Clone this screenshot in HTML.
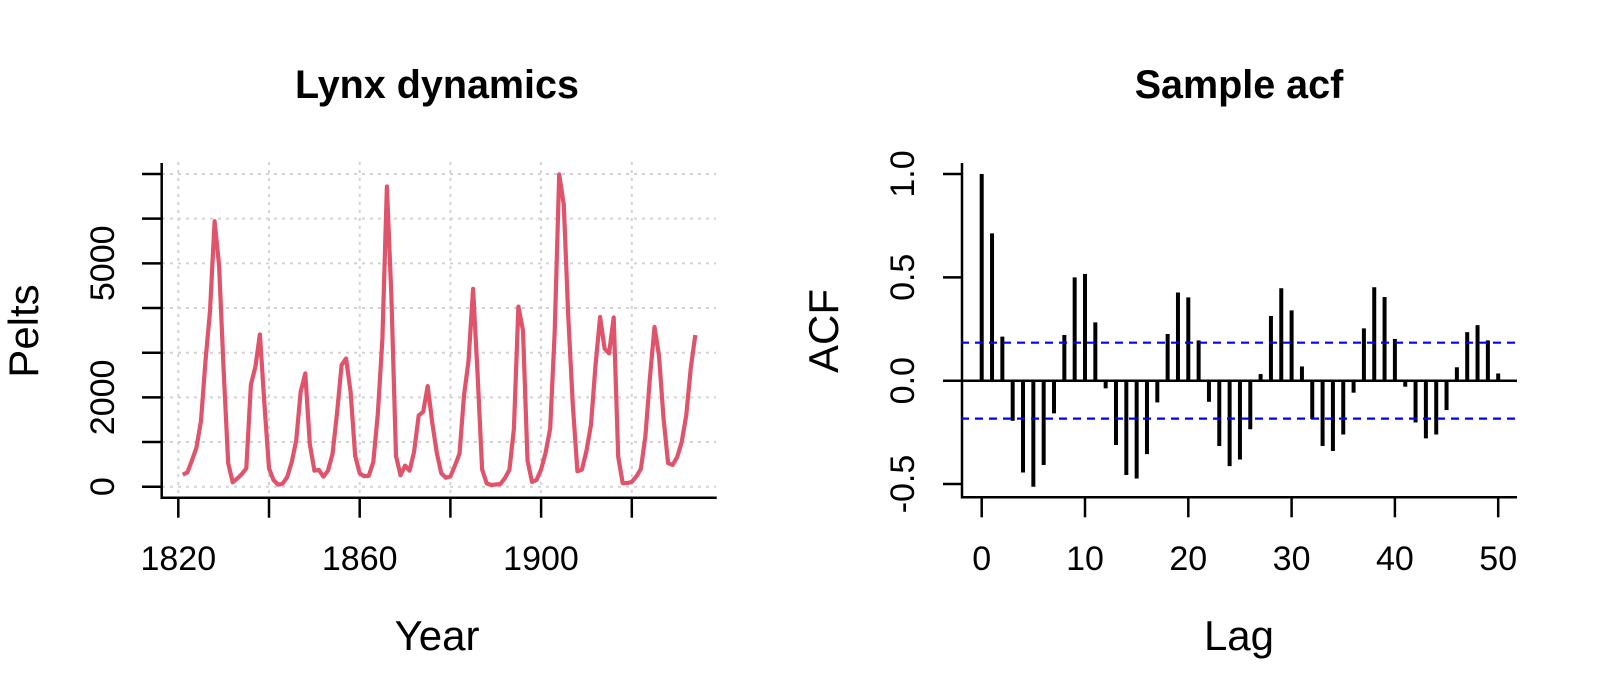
<!DOCTYPE html>
<html><head><meta charset="utf-8"><style>
html,body{margin:0;padding:0;background:#fff;}
svg{display:block;font-family:"Liberation Sans",Arial,sans-serif;}
</style></head><body>
<svg id="s" width="1600" height="700" viewBox="0 0 1600 700" xmlns="http://www.w3.org/2000/svg">
<rect width="1600" height="700" fill="#fff"/>
<g id="grid" stroke="#d3d3d3" stroke-width="2" stroke-dasharray="3,5" fill="none"></g>
<polyline id="lynx" fill="none" stroke="#DF536B" stroke-width="4.2" stroke-linejoin="round"/>
<g stroke="#000" stroke-width="2.5" fill="none" id="axes">
<polyline points="161.7,163 161.7,497.7 716.7,497.7"/>
<polyline points="962,163 962,497.3 1517,497.3"/>
</g>
<g id="bars" stroke="#000" stroke-width="4"></g>
<line x1="961" y1="380.7" x2="1517" y2="380.7" stroke="#000" stroke-width="2.5"/>
<line x1="961" y1="342.7" x2="1517" y2="342.7" stroke="#0000ff" stroke-width="2.2" stroke-dasharray="8,6"/>
<line x1="961" y1="418.6" x2="1517" y2="418.6" stroke="#0000ff" stroke-width="2.2" stroke-dasharray="8,6"/>
<text x="437" y="98" font-size="39.5" font-weight="bold" text-anchor="middle">Lynx dynamics</text>
<text x="1239" y="98" font-size="39.5" font-weight="bold" text-anchor="middle">Sample acf</text>
<text x="437" y="650" font-size="42" text-anchor="middle">Year</text>
<text x="1239" y="650" font-size="42" text-anchor="middle">Lag</text>
<text transform="translate(38,331) rotate(-90)" font-size="42" text-anchor="middle">Pelts</text>
<text transform="translate(838,331) rotate(-90)" font-size="42" text-anchor="middle">ACF</text>
<g font-size="34" text-anchor="middle">
<text x="178.3" y="570">1820</text>
<text x="359.7" y="570">1860</text>
<text x="541" y="570">1900</text>
<text x="981.7" y="570">0</text>
<text x="1085" y="570">10</text>
<text x="1188.3" y="570">20</text>
<text x="1291.6" y="570">30</text>
<text x="1394.9" y="570">40</text>
<text x="1498.2" y="570">50</text>
<text transform="translate(114,486.7) rotate(-90)">0</text>
<text transform="translate(114,397.4) rotate(-90)">2000</text>
<text transform="translate(114,263.3) rotate(-90)">5000</text>
<text transform="translate(914,484) rotate(-90)">-0.5</text>
<text transform="translate(914,380.7) rotate(-90)">0.0</text>
<text transform="translate(914,277.3) rotate(-90)">0.5</text>
<text transform="translate(914,174) rotate(-90)">1.0</text>
</g>
<g id="ticks" stroke="#000" stroke-width="2.5"></g>
</svg>
<script>
var NS="http://www.w3.org/2000/svg";
function L(g,x1,y1,x2,y2){var l=document.createElementNS(NS,"line");l.setAttribute("x1",x1);l.setAttribute("y1",y1);l.setAttribute("x2",x2);l.setAttribute("y2",y2);document.getElementById(g).appendChild(l);}
var d=[269,321,585,871,1475,2821,3928,5943,4950,2577,523,98,184,279,409,2285,2685,3409,1824,409,151,45,68,213,546,1033,2129,2536,957,361,377,225,360,731,1638,2725,2871,2119,684,299,236,245,552,1623,3311,6721,4254,687,255,473,358,784,1594,1676,2251,1426,756,299,201,229,469,736,2042,2811,4431,2511,389,73,39,49,59,188,377,1292,4031,3495,587,105,153,387,758,1307,3465,6991,6313,3794,1836,345,382,808,1388,2713,3800,3091,2985,3790,674,81,80,108,229,399,1132,2432,3574,2935,1537,529,485,662,1000,1590,2657,3396];
function xy(yr){return 178.3+(yr-1820)*4.535;}
function yv(v){return 486.7-v*0.04467;}
var p=[];for(var i=0;i<d.length;i++){p.push(xy(1821+i).toFixed(1)+","+yv(d[i]).toFixed(1));}
document.getElementById("lynx").setAttribute("points",p.join(" "));
for(var yr=1820;yr<=1920;yr+=20){L("grid",xy(yr),162,xy(yr),497);L("ticks",xy(yr),497.7,xy(yr),517.7);}
for(var v=0;v<=7000;v+=1000){L("grid",162,yv(v),716,yv(v));L("ticks",142,yv(v),161.7,yv(v));}
var a=[1,0.713,0.213,-0.194,-0.444,-0.513,-0.408,-0.158,0.221,0.5,0.516,0.282,-0.037,-0.311,-0.456,-0.473,-0.355,-0.105,0.226,0.427,0.403,0.195,-0.102,-0.316,-0.413,-0.381,-0.235,0.032,0.313,0.447,0.34,0.069,-0.185,-0.316,-0.34,-0.26,-0.058,0.253,0.452,0.405,0.202,-0.029,-0.202,-0.279,-0.26,-0.142,0.065,0.235,0.269,0.195,0.035];
function ax(l){return 981.7+l*10.33;}function ay(v){return 380.7-v*206.7;}
for(var k=0;k<a.length;k++){L("bars",ax(k),ay(0),ax(k),ay(a[k]));}
for(var l=0;l<=50;l+=10){L("ticks",ax(l),497.3,ax(l),517.3);}
[-0.5,0,0.5,1].forEach(function(v){L("ticks",943,ay(v),962,ay(v));});
</script>
</body></html>
